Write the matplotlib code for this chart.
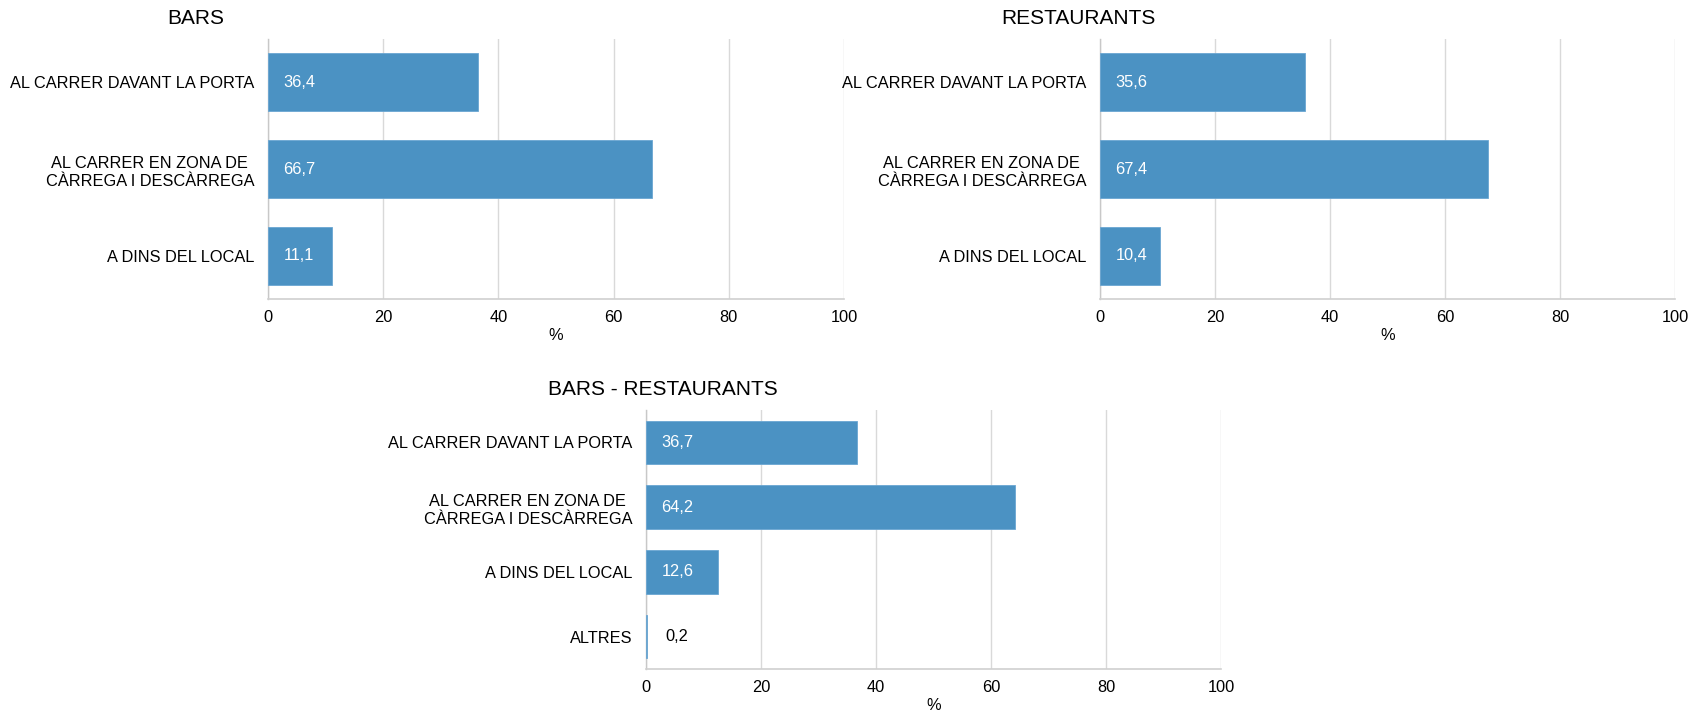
import numpy as np
import matplotlib.pyplot as plt

plt.rcParams['font.family'] = ['Liberation Sans', 'DejaVu Sans']

# data
cats_3 = ['AL CARRER DAVANT LA PORTA',
          'AL CARRER EN ZONA DE\nCÀRREGA I DESCÀRREGA',
          'A DINS DEL LOCAL']
cats_4 = cats_3 + ['ALTRES']
bars_vals = [36.4, 66.7, 11.1]
rest_vals = [35.6, 67.4, 10.4]
total_vals = [36.7, 64.2, 12.6, 0.2]
x_ticks = [0, 20, 40, 60, 80, 100]

BAR_COLOR = '#4b92c3'
GRID_COLOR = '#d9d9d9'
FS = 11.75
W, H = 1690, 712


def px_axes(fig, left, right, top, bottom):
    # axes rectangle given in pixel coords of the output image
    return fig.add_axes([left / W, 1 - bottom / H, (right - left) / W, (bottom - top) / H])


def draw_panel(ax, cats, vals):
    y = np.arange(len(cats))
    ax.barh(y, vals, height=0.67, color=BAR_COLOR, edgecolor='#6aa6d2', linewidth=0.6, zorder=3)
    ax.set_ylim(len(cats) - 0.5, -0.5)
    ax.set_xlim(0, 100)
    ax.set_xticks(x_ticks)
    ax.set_yticks(y)
    ax.set_yticklabels(cats, fontsize=FS, linespacing=1.3, multialignment='center')
    ax.tick_params(axis='both', length=0, labelsize=FS)
    ax.tick_params(axis='y', pad=10)
    ax.tick_params(axis='x', pad=8)
    ax.xaxis.grid(True, color=GRID_COLOR, linewidth=1, zorder=0)
    ax.set_axisbelow(True)
    for s in ['top', 'right']:
        ax.spines[s].set_visible(False)
    ax.spines['left'].set_color('#c8c8c8')
    ax.spines['bottom'].set_color('#d0d0d0')
    ax.spines['left'].set_linewidth(1)
    ax.spines['bottom'].set_linewidth(1.2)
    ax.set_xlabel('%', fontsize=FS, labelpad=2)
    for yi, v in zip(y, vals):
        label = ('%.1f' % v).replace('.', ',')
        if v > 5:
            ax.annotate(label, (0, yi), xytext=(11, 0), textcoords='offset points',
                        ha='left', va='center', color='white', fontsize=FS, zorder=4)
        else:
            ax.annotate(label, (0, yi), xytext=(14, 0), textcoords='offset points',
                        ha='left', va='center', color='black', fontsize=FS, zorder=4)


fig = plt.figure(figsize=(16.9, 7.12), dpi=100)

ax1 = px_axes(fig, 268, 844, 39, 299)
draw_panel(ax1, cats_3, bars_vals)
fig.text(196 / W, 1 - 19 / H, 'BARS', ha='center', va='center', fontsize=15)

ax2 = px_axes(fig, 1100, 1675, 39, 299)
draw_panel(ax2, cats_3, rest_vals)
fig.text(1078 / W, 1 - 19 / H, 'RESTAURANTS', ha='center', va='center', fontsize=15)

ax3 = px_axes(fig, 646, 1221, 410, 669)
draw_panel(ax3, cats_4, total_vals)
fig.text(663 / W, 1 - 390 / H, 'BARS - RESTAURANTS', ha='center', va='center', fontsize=15)

fig.savefig('out.png', dpi=100)
